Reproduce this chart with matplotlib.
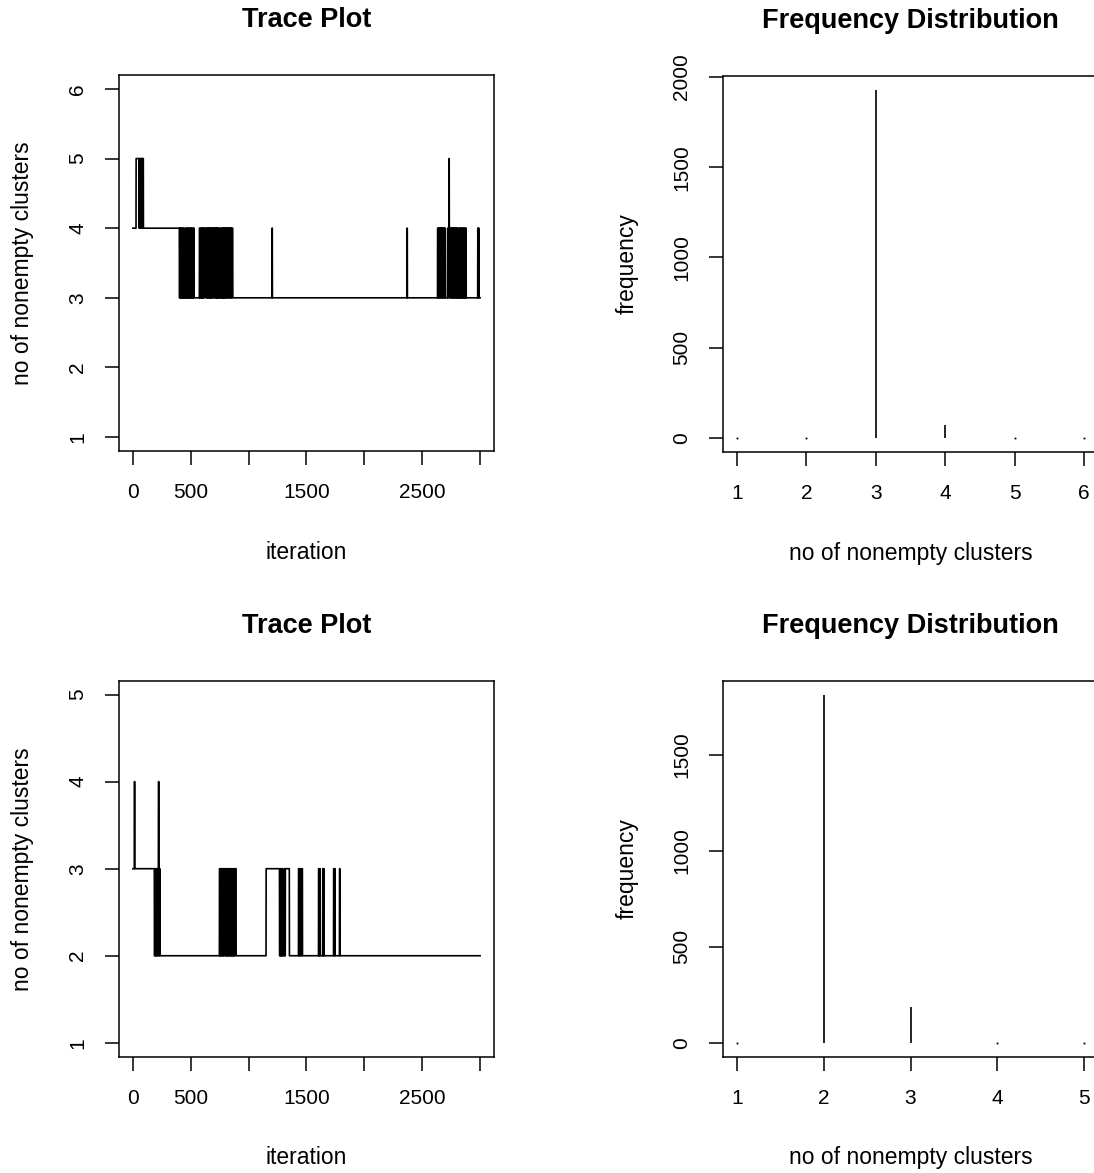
import numpy as np
import matplotlib
matplotlib.use("Agg")
import matplotlib.pyplot as plt

plt.rcParams['font.family'] = ['Liberation Sans', 'DejaVu Sans']

# === data ===
n_iter = 3000

# trace 1: iteration where a new value starts, and that value
trace1_iter = [1, 29, 55, 58, 63, 66, 72, 75, 82, 85, 92,
               403, 407, 411, 416, 420, 425, 429, 434, 438, 443, 446,
               455, 459, 464, 468, 472, 475,
               481, 485, 490, 494, 499, 503, 508, 512, 517, 521, 526, 530,
               576, 580, 585, 589, 594, 598, 603, 607, 612, 616, 620,
               633, 637, 642, 646, 651, 655, 660, 664, 668, 671,
               674, 678, 683, 687, 694, 698, 705, 709, 714, 718, 723, 726, 729,
               731, 735, 740, 744, 749, 753, 762, 766, 771, 775, 780, 783, 786,
               789, 793, 798, 802, 807, 811, 816, 820, 826, 830,
               835, 839, 844, 848, 853, 857, 864,
               1203, 1206, 2369, 2372,
               2633, 2637, 2641, 2646, 2650, 2655, 2659, 2664, 2668, 2673, 2677, 2682, 2686, 2691, 2695, 2700,
               2720, 2724, 2728, 2732, 2734, 2737, 2741, 2746, 2750, 2755, 2759, 2764, 2768, 2773, 2777, 2782,
               2786, 2791, 2795, 2800, 2803, 2806,
               2815, 2819, 2824, 2828, 2833, 2837, 2842, 2846, 2851, 2855, 2860, 2864, 2869, 2873, 2877, 2880,
               2980, 2984, 2987, 2990]
trace1_val = [4, 5, 4, 5, 4, 5, 4, 5, 4, 5, 4,
              3, 4, 3, 4, 3, 4, 3, 4, 3, 4, 3,
              4, 3, 4, 3, 4, 3,
              4, 3, 4, 3, 4, 3, 4, 3, 4, 3, 4, 3,
              4, 3, 4, 3, 4, 3, 4, 3, 4, 3, 4,
              3, 4, 3, 4, 3, 4, 3, 4, 3, 4,
              3, 4, 3, 4, 3, 4, 3, 4, 3, 4, 3, 4, 3,
              4, 3, 4, 3, 4, 3, 4, 3, 4, 3, 4, 3, 4,
              3, 4, 3, 4, 3, 4, 3, 4, 3, 4,
              3, 4, 3, 4, 3, 4, 3,
              4, 3, 4, 3,
              4, 3, 4, 3, 4, 3, 4, 3, 4, 3, 4, 3, 4, 3, 4, 3,
              4, 3, 4, 5, 4, 3, 4, 3, 4, 3, 4, 3, 4, 3, 4, 3,
              4, 3, 4, 3, 4, 3,
              4, 3, 4, 3, 4, 3, 4, 3, 4, 3, 4, 3, 4, 3, 4, 3,
              4, 3, 4, 3]

# trace 2
trace2_iter = [1, 14, 18, 187, 192, 196, 201, 205, 210, 214, 219, 222, 226, 229, 233, 235,
               749, 753, 757, 761, 765, 769, 773, 777, 781, 785, 789, 795,
               806, 810, 814, 818, 821, 824,
               835, 839, 843, 847, 851, 855, 860, 864, 868, 872, 876, 880, 885, 893,
               1152, 1268, 1272, 1276, 1281, 1285, 1290, 1294, 1308, 1312, 1318, 1353,
               1432, 1436, 1441, 1446, 1451, 1456, 1461, 1466,
               1605, 1609, 1616, 1619, 1641, 1644, 1650, 1653,
               1735, 1739, 1744, 1748, 1786, 1790]
trace2_val = [3, 4, 3, 2, 3, 2, 3, 2, 3, 2, 3, 4, 3, 2, 3, 2,
              3, 2, 3, 2, 3, 2, 3, 2, 3, 2, 3, 2,
              3, 2, 3, 2, 3, 2,
              3, 2, 3, 2, 3, 2, 3, 2, 3, 2, 3, 2, 3, 2,
              3, 2, 3, 2, 3, 2, 3, 2, 3, 2, 3, 2,
              3, 2, 3, 2, 3, 2, 3, 2,
              3, 2, 3, 2, 3, 2, 3, 2,
              3, 2, 3, 2, 3, 2]

# frequency distributions
freq1_k = [1, 2, 3, 4, 5, 6]
freq1_n = [0, 0, 1928, 72, 0, 0]
freq2_k = [1, 2, 3, 4, 5]
freq2_n = [0, 1815, 185, 0, 0]


def expand(starts, vals):
    lengths = np.diff(np.append(starts, n_iter + 1))
    return np.repeat(vals, lengths)


# === figure ===
W, H = 1094, 1173
fig = plt.figure(figsize=(W / 100, H / 100), dpi=100)


def make_ax(left, top):
    ax = fig.add_axes([left / W, 1 - (top + 376) / H, 375 / W, 376 / H])
    for s in ax.spines.values():
        s.set_linewidth(1.1)
    ax.tick_params(direction='out', length=10, width=1.1, labelsize=15, pad=13)
    return ax


def decorate(ax, title, xlab, ylab):
    ax.text(0.5, 1.146, title, transform=ax.transAxes, ha='center', va='center',
            fontsize=19.5, fontweight='bold')
    ax.set_xlabel(xlab, fontsize=16.5, va='center')
    ax.xaxis.set_label_coords(0.5, -0.269)
    ax.set_ylabel(ylab, fontsize=16.5, va='center')
    ax.yaxis.set_label_coords(-0.256, 0.5)
    for lab in ax.get_yticklabels():
        lab.set_rotation(90)
        lab.set_va('center')


iters = np.arange(1, n_iter + 1)
xt = [0, 500, 1000, 1500, 2000, 2500, 3000]
xtl = ['0', '500', '', '1500', '', '2500', '']

for top, starts, vals, ymax in [(75, trace1_iter, trace1_val, 6),
                                (680.7, trace2_iter, trace2_val, 5)]:
    ax = make_ax(119, top)
    ax.plot(iters, expand(starts, vals), color='black', lw=1.2)
    ax.set_xlim(1 - 0.04 * (n_iter - 1), n_iter + 0.04 * (n_iter - 1))
    ax.set_ylim(1 - 0.04 * (ymax - 1), ymax + 0.04 * (ymax - 1))
    ax.set_xticks(xt)
    ax.set_xticklabels(xtl)
    ax.set_yticks(range(1, ymax + 1))
    decorate(ax, 'Trace Plot', 'iteration', 'no of nonempty clusters')

for top, ks, ns, yt in [(76, freq1_k, freq1_n, [0, 500, 1000, 1500, 2000]),
                        (680.7, freq2_k, freq2_n, [0, 500, 1000, 1500])]:
    ax = make_ax(723, top)
    ks = np.array(ks)
    ns = np.array(ns)
    pos = ns > 0
    ax.vlines(ks[pos], 0, ns[pos], color='black', lw=1.2)
    ax.plot(ks[~pos], ns[~pos], 's', color='black', ms=1.3, mew=0)
    span = ks.max() - ks.min()
    ax.set_xlim(ks.min() - 0.04 * span, ks.max() + 0.04 * span)
    ax.set_ylim(-0.04 * ns.max(), ns.max() * 1.04)
    ax.set_xticks(ks)
    ax.set_yticks(yt)
    decorate(ax, 'Frequency Distribution', 'no of nonempty clusters', 'frequency')

fig.savefig('out.png', dpi=100)
